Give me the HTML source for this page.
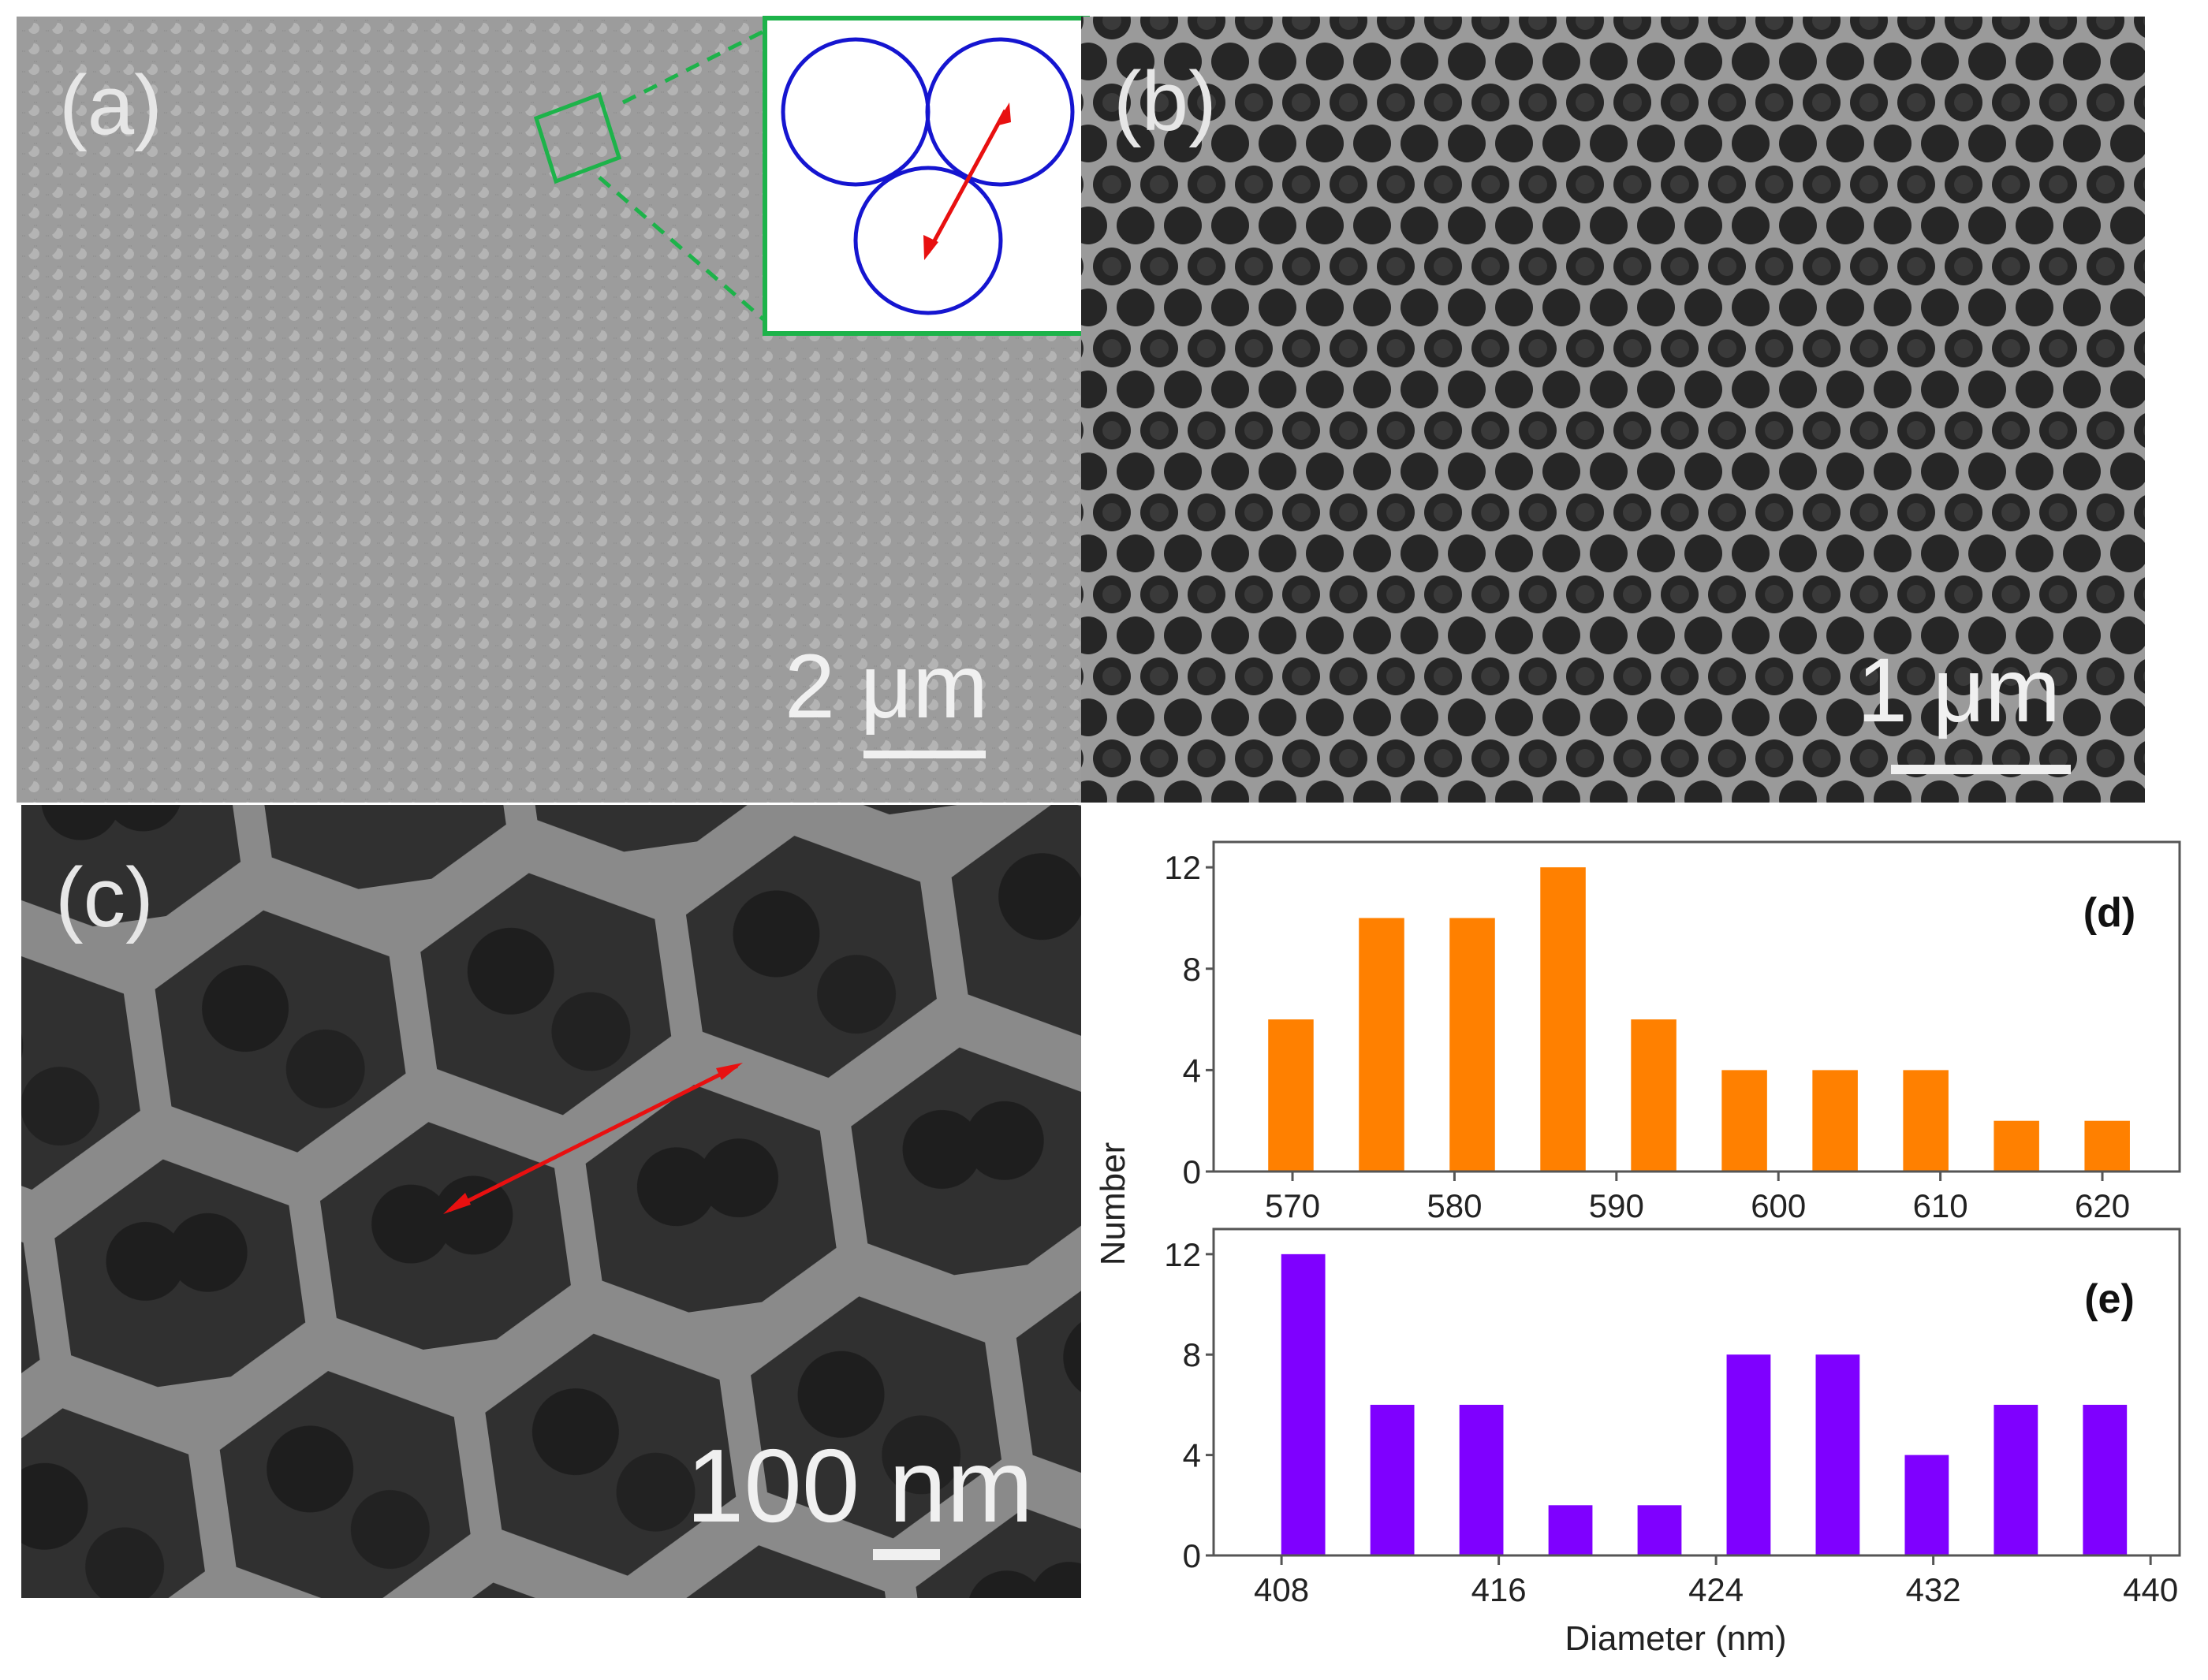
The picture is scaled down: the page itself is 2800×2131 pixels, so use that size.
<!DOCTYPE html>
<html><head><meta charset="utf-8"><style>
body{margin:0;background:#fff;width:2800px;height:2131px;overflow:hidden;font-family:"Liberation Sans",sans-serif}
svg{position:absolute;left:0;top:0}
</style></head><body>
<svg width="2800" height="2131">
<defs>
<pattern id="spheres" width="30" height="26" patternUnits="userSpaceOnUse">
<rect width="30" height="26" fill="#5a5a5a"/>
<circle cx="15" cy="13" r="13" fill="#9c9c9c"/><circle cx="13" cy="10" r="7" fill="#b4b4b4"/>
<circle cx="0" cy="0" r="13" fill="#9c9c9c"/><circle cx="30" cy="0" r="13" fill="#9c9c9c"/>
<circle cx="0" cy="26" r="13" fill="#9c9c9c"/><circle cx="30" cy="26" r="13" fill="#9c9c9c"/>
</pattern>
<pattern id="pores" width="60" height="104" patternUnits="userSpaceOnUse">
<rect width="60" height="104" fill="#9a9a9a"/>
<circle cx="30" cy="26" r="24" fill="#262626"/><circle cx="0" cy="78" r="24" fill="#262626"/><circle cx="60" cy="78" r="24" fill="#262626"/>
<circle cx="30" cy="26" r="12" fill="#3a3a3a"/>
</pattern>
<pattern id="cells" width="340" height="590" patternUnits="userSpaceOnUse" patternTransform="rotate(-8)">
<rect width="340" height="590" fill="#8a8a8a"/>
<polygon points="170,10 320,90 320,240 170,320 20,240 20,90" fill="#303030"/>
<polygon points="0,305 150,385 150,535 0,615 -150,535 -150,385" fill="#303030"/>
<polygon points="340,305 490,385 490,535 340,615 190,535 190,385" fill="#303030"/>
<circle cx="130" cy="130" r="55" fill="#1e1e1e"/><circle cx="220" cy="220" r="50" fill="#222"/>
<circle cx="300" cy="430" r="50" fill="#1e1e1e"/><circle cx="40" cy="430" r="50" fill="#1e1e1e"/>
</pattern>
</defs>
<g>
<rect x="21" y="21" width="1350" height="997" fill="url(#spheres)"/>
<text x="75" y="170" font-size="107" fill="#e6e6e6">(a)</text>
<text x="995" y="910" font-size="115" fill="#f0f0f0">2 μm</text>
<rect x="1095" y="952" width="155" height="10" fill="#f0f0f0"/>
<polygon points="680,150 760,120 785,200 705,230" fill="none" stroke="#1db34a" stroke-width="5"/>
<line x1="790" y1="130" x2="968" y2="40" stroke="#1db34a" stroke-width="5" stroke-dasharray="18,12"/>
<line x1="760" y1="225" x2="968" y2="405" stroke="#1db34a" stroke-width="5" stroke-dasharray="18,12"/>
<g>
<rect x="970" y="23" width="409" height="400" fill="#fff" stroke="#1db34a" stroke-width="6"/>
<circle cx="1085" cy="142" r="92" fill="none" stroke="#1515d0" stroke-width="5"/>
<circle cx="1268" cy="142" r="92" fill="none" stroke="#1515d0" stroke-width="5"/>
<circle cx="1177" cy="305" r="92" fill="none" stroke="#1515d0" stroke-width="5"/>
<line x1="1177" y1="320" x2="1275" y2="140" stroke="#e81010" stroke-width="5"/>
<polygon points="1280,130 1262,160 1282,155" fill="#e81010"/>
<polygon points="1172,330 1171,298 1190,307" fill="#e81010"/>
</g>
</g>
<g>
<rect x="1371" y="21" width="1349" height="997" fill="url(#pores)"/>
<text x="1412" y="165" font-size="107" fill="#e6e6e6">(b)</text>
<text x="2355" y="915" font-size="115" fill="#f0f0f0">1 μm</text>
<rect x="2398" y="970" width="228" height="12" fill="#f0f0f0"/>
</g>
<g>
<rect x="27" y="1021" width="1344" height="1006" fill="url(#cells)"/>
<text x="70" y="1175" font-size="107" fill="#e6e6e6">(c)</text>
<text x="870" y="1930" font-size="132" fill="#f0f0f0">100 nm</text>
<rect x="1107" y="1965" width="85" height="14" fill="#f0f0f0"/>
<line x1="570" y1="1535" x2="935" y2="1352" stroke="#e81010" stroke-width="5"/>
<polygon points="562,1540 590,1513 597,1528" fill="#e81010"/>
<polygon points="942,1348 915,1370 908,1355" fill="#e81010"/>
</g>
<g id="charts"></g>
</svg>
<script>
const dCenters=[569.9,575.5,581.1,586.7,592.3,597.9,603.5,609.1,614.7,620.3];
const dValues=[6,10,10,12,6,4,4,4,2,2];
const dTicks=[570,580,590,600,610,620];
const eCenters=[408.8,412.08,415.36,418.64,421.92,425.2,428.48,431.76,435.04,438.32];
const eValues=[12,6,6,2,2,8,8,4,6,6];
const eTicks=[408,416,424,432,440];
const yTicks=[0,4,8,12];
const NS='http://www.w3.org/2000/svg';
const root=document.getElementById('charts');
function mk(tag,attrs,parent){const e=document.createElementNS(NS,tag);for(const k in attrs)e.setAttribute(k,attrs[k]);(parent||root).appendChild(e);return e;}
function chart(o){
  const g=mk('g',{});
  
  
  const L=1539,R=2764,T=o.top,B=o.bottom;
  const xs=v=>L+(v-o.xmin)/(o.xmax-o.xmin)*(R-L);
  const ys=v=>B-(v/13)*(B-T);
  o.centers.forEach((c,i)=>{
    const r=mk('rect',{x:xs(c-o.bw/2),y:ys(o.values[i]),width:xs(c+o.bw/2)-xs(c-o.bw/2),height:B-ys(o.values[i]),fill:o.color},g);
    
    
  });
  const box=mk('rect',{x:L,y:T,width:R-L,height:B-T,fill:'none',stroke:'#555','stroke-width':3},g);
  
  
  yTicks.forEach(v=>{
    mk('line',{x1:L-10,x2:L,y1:ys(v),y2:ys(v),stroke:'#555','stroke-width':3},g);
    const t=mk('text',{x:L-16,y:ys(v)+15,'font-size':42,'text-anchor':'end',fill:'#222'},g);
    t.textContent=v;
    
    
  });
  o.ticks.forEach(v=>{
    mk('line',{x1:xs(v),x2:xs(v),y1:B,y2:B+12,stroke:'#555','stroke-width':3},g);
    const t=mk('text',{x:xs(v),y:B+58,'font-size':42,'text-anchor':'middle',fill:'#222'},g);
    t.textContent=v;
    
    
  });
  const lb=mk('text',{x:2675,y:o.lblY,'font-size':52,'font-weight':'bold','text-anchor':'middle',fill:'#111'},g);
  lb.textContent=o.label;
  
  
}
chart({name:'histogram-d',top:1068,bottom:1486,xmin:565.13,xmax:624.77,centers:dCenters,values:dValues,ticks:dTicks,bw:2.8,color:'#ff8000',label:'(d)',lblY:1175});
chart({name:'histogram-e',top:1559,bottom:1973,xmin:405.5,xmax:441.07,centers:eCenters,values:eValues,ticks:eTicks,bw:1.62,color:'#7f00ff',label:'(e)',lblY:1665});
const xl=mk('text',{x:2125,y:2093,'font-size':44,'text-anchor':'middle',fill:'#222'});
xl.textContent='Diameter (nm)';


const yl=mk('text',{x:1426,y:1527,'font-size':44,'text-anchor':'middle',fill:'#222',transform:'rotate(-90 1426 1527)'});
yl.textContent='Number';


</script>
</body></html>
